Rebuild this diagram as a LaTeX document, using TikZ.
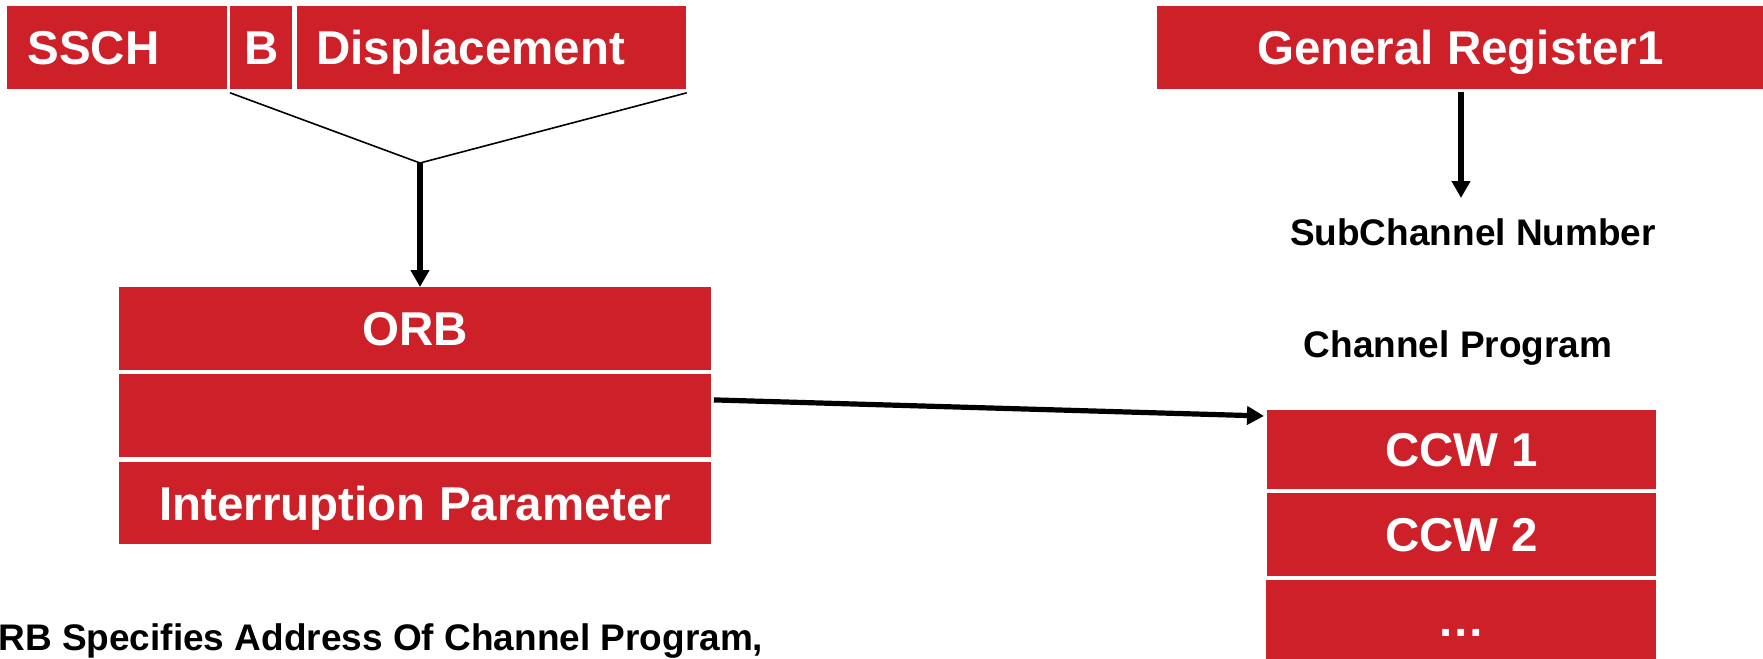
\documentclass[tikz,border=0pt]{standalone}
\usepackage{fontspec}
\setmainfont{Liberation Sans}
\usetikzlibrary{arrows.meta}
\definecolor{boxred}{RGB}{205,32,41}
\begin{document}
\begin{tikzpicture}[x=0.5pt,y=-0.5pt,
  box/.style={fill=boxred, text=white, inner sep=0pt, anchor=north west,
    font=\bfseries\fontsize{23.75}{28}\selectfont, text height=17pt, text depth=0pt},
  lbl/.style={text=black, inner sep=0pt, font=\bfseries\fontsize{18.5}{22}\selectfont},
  arr/.style={line width=2.6pt, -{Triangle[length=8.5pt,width=9pt]}},
  thinline/.style={line width=0.8pt}
]
\useasboundingbox (0,0) rectangle (1763,659);
% instruction format
\node[box, text width=90pt, inner xsep=10pt, minimum height=41.5pt, align=left] (ssch) at (7,6) {SSCH};
\node[box, minimum width=31pt, minimum height=41.5pt] (b) at (230,6) {B};
\node[box, text width=175.5pt, inner xsep=9.5pt, minimum height=41.5pt, align=left] (disp) at (297,6) {Displacement};
% ORB
\node[box, minimum width=296pt, minimum height=41.5pt] (orb) at (119,287) {ORB};
\node[box, minimum width=296pt, minimum height=41.5pt] (blank) at (119,374) {};
\node[box, minimum width=296pt, minimum height=41pt] (intp) at (119,462) {Interruption Parameter};
% general register
\node[box, minimum width=303pt, minimum height=41.5pt] (gr) at (1157,6) {General Register1};
% channel program
\node[box, minimum width=194.5pt, minimum height=39.5pt] (ccw1) at (1267,410) {CCW 1};
\node[box, minimum width=194.5pt, minimum height=41.5pt] (ccw2) at (1267,493) {CCW 2};
\node[box, minimum width=195pt, minimum height=39.5pt] (dots) at (1266,580) {…};
% labels
\node[lbl, anchor=base] (sub) at (1473,245) {SubChannel Number};
\node[lbl, anchor=base] (chp) at (1458,357) {Channel Program};
\node[lbl, anchor=base west] (note) at (-2,650) {RB Specifies Address Of Channel Program,};
% connectors
\coordinate (apex) at (420,163);
\draw[thinline] ([yshift=-1.5pt]b.south west) -- (apex) -- ([yshift=-1.5pt]disp.south east);
\draw[arr] (apex) -- (apex |- orb.north);
\coordinate (subtip) at (1461,198);
\draw[arr] ([yshift=-1pt]gr.south -| subtip) -- (subtip);
\draw[arr] ([xshift=1pt,yshift=8pt]blank.east) -- ([xshift=-1.5pt,yshift=-3pt]ccw1.north west);
\end{tikzpicture}
\end{document}
